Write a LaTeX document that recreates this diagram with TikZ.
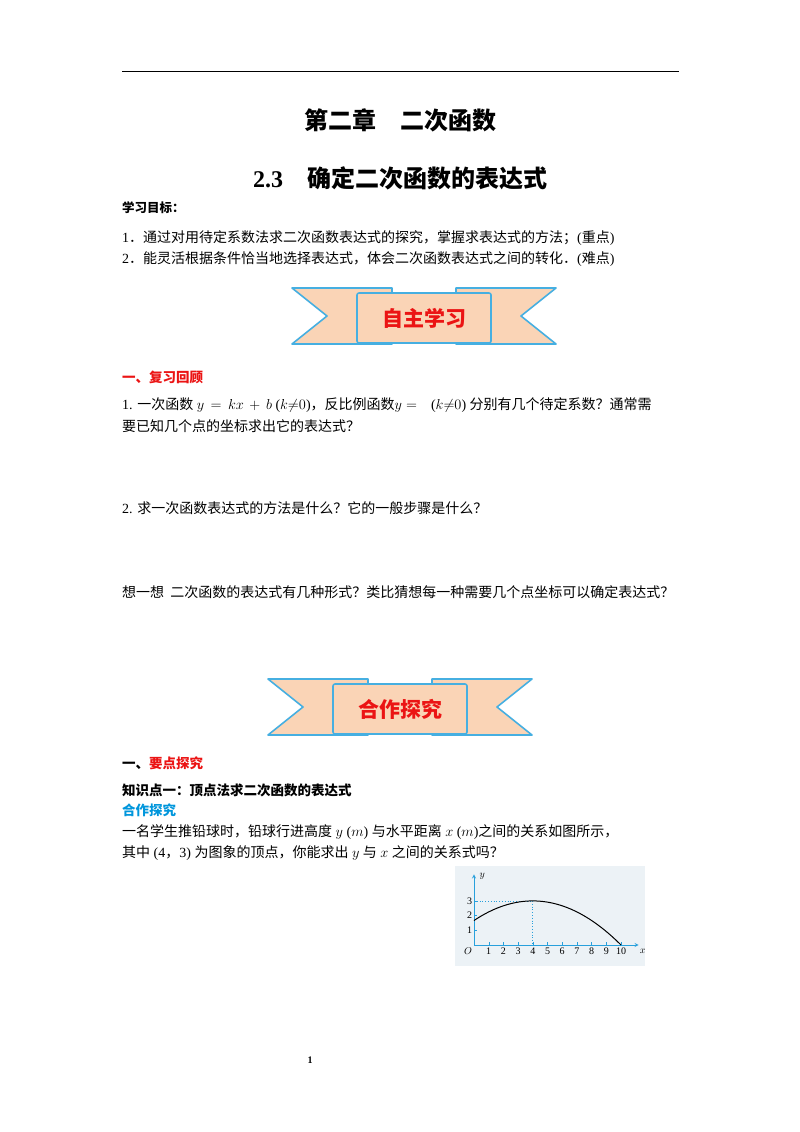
\documentclass[tikz,border=0pt]{standalone}
\usepackage{fontspec}
\setmainfont{Liberation Serif}
\newfontfamily\cjk{Noto Sans CJK SC}
\newcommand\zh[1]{{\cjk #1}}
\definecolor{peach}{RGB}{250,212,182}
\definecolor{bblue}{RGB}{70,175,225}
\definecolor{titred}{RGB}{235,20,20}
\definecolor{hblue}{RGB}{0,150,220}
\definecolor{gbg}{RGB}{236,242,246}
\definecolor{axblue}{RGB}{40,160,220}
\tikzset{
  body/.style={anchor=west,font=\fontsize{14}{16}\selectfont,inner sep=0pt},
  head/.style={anchor=center,font=\fontsize{24}{28}\selectfont\bfseries,inner sep=0pt},
  tail/.style={fill=peach,draw=bblue,line width=1.6pt,line join=round},
}
\newcommand\banner[4]{% cx cy text name
  \begin{scope}[shift={(#1,#2)}]
  \draw[tail] (-132,-28) -- (-32,-28) -- (-32,28) -- (-132,28) -- (-97,0) -- cycle;
  \draw[tail] (132,-28) -- (32,-28) -- (32,28) -- (132,28) -- (97,0) -- cycle;
  \draw[tail,rounded corners=2pt] (-67,-23) rectangle (67,27);
  \node[inner sep=0pt,font=\cjk\fontsize{21}{24}\selectfont\bfseries,text=titred] (#4) at (0,2) {#3};
  \end{scope}}
\begin{document}
\begin{tikzpicture}[x=1pt,y=-1pt]
\useasboundingbox[fill=white] (0,0) rectangle (800,1132);
\draw[line width=1pt] (122,72) -- (679,72);
\node[head] (t1) at (400,120) {\cjk 第二章\quad 二次函数};
\node[head] (t2) at (400,178) {2.3\quad\zh{确定二次函数的表达式}};
\node[body,font=\fontsize{12.5}{14}\selectfont\bfseries] (g) at (122,208) {\zh{学习目标：}};
\node[body] (g1) at (122,238) {1\zh{．通过对用待定系数法求二次函数表达式的探究，掌握求表达式的方法；}(\zh{重点})};
\node[body] (g2) at (122,259) {2\zh{．能灵活根据条件恰当地选择表达式，体会二次函数表达式之间的转化．}(\zh{难点})};
\banner{424}{316}{自主学习}{b1}
\node[body,font=\fontsize{13.5}{15}\selectfont\bfseries,text=titred] (s1) at (122,377) {\zh{一、复习回顾}};
\node[body] (q1) at (122,405) {1. \zh{一次函数} $y\,=\,kx\,+\,b$ ($k{\neq}0$)\zh{，反比例函数}$y=$\hspace{14pt}($k{\neq}0$) \zh{分别有几个待定系数？通常需}};
\node[body] (q1b) at (122,426) {\zh{要已知几个点的坐标求出它的表达式？}};
\node[body] (q2) at (122,508) {2. \zh{求一次函数表达式的方法是什么？它的一般步骤是什么？}};
\node[body] (q3) at (122,592) {\zh{想一想\ \ 二次函数的表达式有几种形式？类比猜想每一种需要几个点坐标可以确定表达式？}};
\banner{400}{707}{合作探究}{b2}
\node[body,font=\fontsize{13.5}{15}\selectfont\bfseries] (s2) at (122,763) {\zh{一、\textcolor{titred}{要点探究}}};
\node[body,font=\fontsize{13.5}{15}\selectfont\bfseries] (k1) at (122,790) {\zh{知识点一：顶点法求二次函数的表达式}};
\node[body,font=\fontsize{13.5}{15}\selectfont\bfseries,text=hblue] (k2) at (122,810) {\zh{合作探究}};
\node[body] (p1) at (122,832) {\zh{一名学生推铅球时，铅球行进高度} $y$ ($m$) \zh{与水平距离} $x$ ($m$)\zh{之间的关系如图所示，}};
\node[body] (p2) at (122,853) {\zh{其中} (4\zh{，}3) \zh{为图象的顶点，你能求出} $y$ \zh{与} $x$ \zh{之间的关系式吗？}};
\fill[gbg] (455,866) rectangle (645,966);
\begin{scope}[shift={(474,945)},x=14.7pt,y={(0pt,14.7pt)},font=\fontsize{10}{11}\selectfont]
  \draw[axblue,line width=0.8pt,-stealth] (0,0) -- (11.2,0);
  \draw[axblue,line width=0.8pt,-stealth] (0,0) -- (0,4.8);
  \foreach \i in {1,...,10} {\draw[axblue] (\i,0) -- (\i,0.2); \node[anchor=north,inner sep=1pt] at (\i,-0.1) {\i};}
  \foreach \j in {1,2,3} {\draw[axblue] (0,\j) -- (0.2,\j); \node[anchor=east,inner sep=1pt] at (-0.05,\j) {\j};}
  \node[anchor=north east,inner sep=1pt] at (-0.05,-0.1) {$O$};
  \node[anchor=west,inner sep=1pt] at (11.2,-0.4) {$x$};
  \node[anchor=west,inner sep=1pt] at (0.3,4.7) {$y$};
  \draw[axblue,dotted,thick] (0,3) -- (4,3) -- (4,0);
  \draw[line width=1pt,domain=0:10,samples=60,smooth] plot (\x,{3-(\x-4)^2/12});
\end{scope}
\node[font=\fontsize{10}{12}\selectfont\bfseries] (pg) at (310,1060) {1};
\end{tikzpicture}
\end{document}
